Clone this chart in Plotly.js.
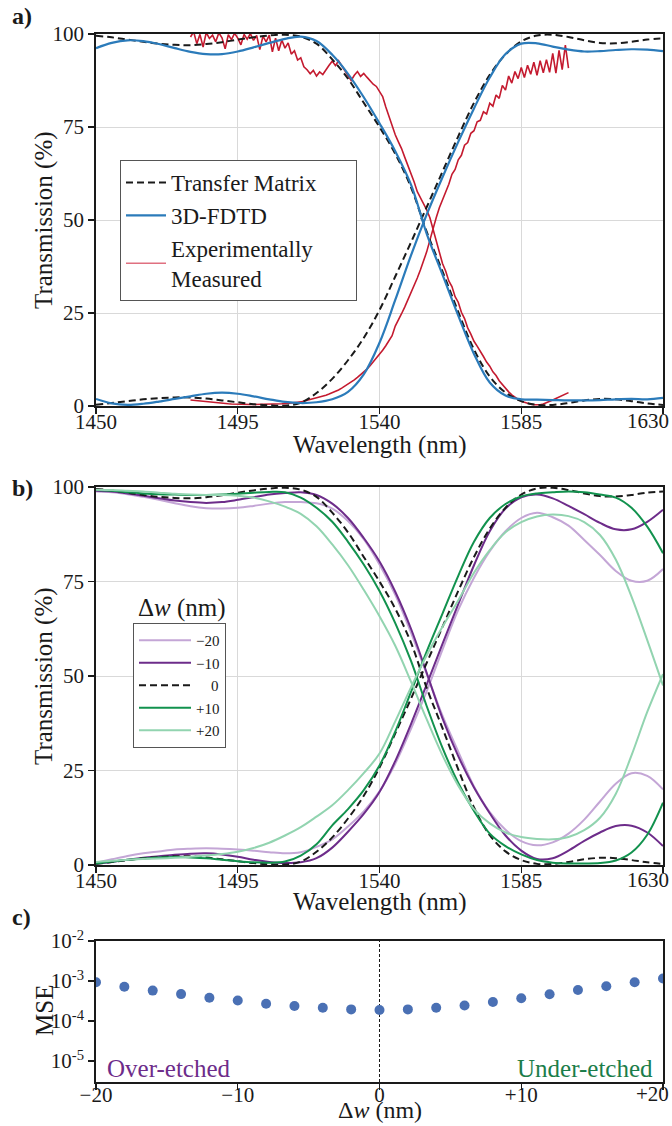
<!DOCTYPE html>
<html>
<head>
<meta charset="utf-8">
<script src="https://cdn.plot.ly/plotly-3.0.1.min.js"></script>
<style>html,body{margin:0;padding:0;background:#fff;}#chart{width:672px;height:1126px;}</style>
</head>
<body>
<div id="chart"></div>
<script>
// ---------- data ----------
const wavelength = [1450,1455,1460,1465,1470,1475,1480,1485,1490,1495,1500,1505,1510,1515,1520,1525,1530,1535,1540,1545,1550,1555,1560,1565,1570,1575,1580,1585,1590,1595,1600,1605,1610,1615,1620,1625,1630];

// Panel a: transfer matrix (also the Δw = 0 case in panel b)
const tmThrough = [99.5,99.1,98.5,97.9,97.4,97.1,97.0,97.3,97.8,98.5,99.1,99.6,99.8,99.3,97.4,93.2,88.0,81.5,75.0,67.8,58.8,46.8,36.2,25.3,15.2,7.9,3.6,1.3,0.3,0.3,0.8,1.5,1.9,1.8,1.3,0.7,0.3];
const tmDrop    = [0.3,0.8,1.3,1.8,2.1,2.3,2.3,2.0,1.5,1.0,0.5,0.2,0.1,0.9,3.5,7.3,12.3,18.3,25.8,34.8,44.0,53.5,63.0,72.5,81.5,89.0,94.5,98.0,99.6,99.8,99.2,98.3,97.6,97.5,97.9,98.5,98.8];
// Panel a: 3D-FDTD
const fdtdThrough = [96.2,97.6,98.3,98.1,97.3,96.2,95.2,94.6,94.6,95.3,96.4,97.6,98.7,99.3,98.1,94.4,89.3,83.0,76.0,68.5,59.5,46.3,35.3,24.3,14.0,6.3,2.8,1.8,1.7,1.6,1.5,1.5,1.6,1.8,1.9,1.8,2.2];
const fdtdDrop    = [1.9,0.7,0.3,0.6,1.2,1.9,2.6,3.3,3.6,3.3,2.6,1.8,1.1,0.8,1.0,1.8,3.8,8.5,17.0,28.5,40.5,51.5,61.5,71.0,80.0,88.3,94.6,97.4,97.5,96.6,95.8,95.3,95.4,95.7,95.9,95.8,95.4];

// Panel a: experimentally measured
const expWavelength = [1480,1481,1482,1483,1484,1485,1486,1487,1488,1489,1490,1491,1492,1493,1494,1495,1496,1497,1498,1499,1500,1501,1502,1503,1504,1505,1506,1507,1508,1509,1510,1511,1512,1513,1514,1515,1516,1517,1518,1519,1520,1521,1522,1523,1524,1525,1526,1527,1528,1529,1530,1531,1532,1533,1534,1535,1536,1537,1538,1539,1540,1541,1542,1543,1544,1545,1546,1547,1548,1549,1550,1551,1552,1553,1554,1555,1556,1557,1558,1559,1560,1561,1562,1563,1564,1565,1566,1567,1568,1569,1570,1571,1572,1573,1574,1575,1576,1577,1578,1579,1580,1581,1582,1583,1584,1585,1586,1587,1588,1589,1590,1591,1592,1593,1594,1595,1596,1597,1598,1599,1600];
const expThrough = [99.2,100.6,97.4,99.9,96.5,100.4,98.8,99.7,97.9,100.3,
  99.0,96.0,99.8,98.5,100.2,98.9,97.1,99.9,98.6,100.1,
  98.3,99.6,95.8,99.4,97.9,99.7,95.2,98.9,95.5,98.4,
  96.2,97.6,94.6,95.5,93.0,93.6,91.2,90.4,89.3,90.2,
  88.7,89.8,89.1,90.5,91.6,92.7,91.5,92.8,91.4,90.1,
  88.8,87.5,88.9,89.9,88.6,89.4,88.4,87.3,86.5,85.9,
  84.5,83.2,80.4,78.0,75.0,72.9,71.0,69.2,66.9,64.8,
  62.5,60.2,57.6,56.0,54.2,52.7,50.6,47.5,44.2,41.0,
  38.3,36.3,33.6,32.1,29.4,27.9,25.2,23.5,21.0,19.3,
  17.4,16.1,14.5,13.3,11.8,10.7,9.2,8.2,6.8,5.7,
  4.6,3.8,3.0,2.3,1.8,1.3,1.0,0.7,0.5,0.35,
  0.3,0.35,0.55,0.85,1.2,1.6,2.0,2.4,2.8,3.2,3.6];
const expDrop = [1.6,1.5,1.4,1.3,1.2,1.1,1.0,0.9,0.8,0.75,
  0.7,0.65,0.6,0.55,0.5,0.5,0.45,0.45,0.4,0.4,
  0.4,0.4,0.4,0.4,0.45,0.45,0.5,0.5,0.55,0.6,
  0.65,0.7,0.8,0.9,1.0,1.1,1.3,1.5,1.7,1.9,
  2.1,2.3,2.6,2.9,3.2,3.5,3.9,4.3,4.8,5.3,
  5.8,6.4,7.0,7.7,8.4,9.1,9.9,10.8,11.8,12.8,
  13.9,15.0,16.2,17.5,18.9,21.5,23.0,24.8,26.6,28.5,
  30.4,32.4,34.4,36.6,38.9,41.5,44.6,47.9,50.6,53.3,
  55.4,57.9,59.6,62.3,63.6,66.2,67.4,70.1,70.8,73.3,
  74.0,76.4,76.8,79.1,78.5,81.4,80.6,83.6,82.7,86.2,
  84.9,88.7,86.8,89.9,88.0,91.0,88.3,91.6,89.2,92.4,
  88.9,92.8,89.6,93.1,89.7,94.8,89.5,95.6,90.4,97.0,90.8];

// Panel b: width deviations Δw
const thruM20 = [98.8,98.6,98.1,97.4,96.6,95.7,94.9,94.4,94.3,94.5,95.0,95.6,96.0,96.0,95.7,94.3,91.0,86.2,79.5,71.5,61.5,50.5,39.5,30.0,20.8,14.0,9.3,6.3,5.2,6.0,8.3,12.0,16.8,21.5,24.3,23.6,20.0];
const dropM20 = [0.6,1.5,2.4,3.1,3.6,4.1,4.3,4.4,4.3,4.1,3.8,3.4,3.1,3.4,4.8,6.8,10.2,14.2,19.5,26.8,36.0,46.0,57.0,67.5,76.0,83.0,88.3,91.8,93.2,92.0,89.8,86.0,82.0,77.8,75.2,75.2,78.3];
const thruM10 = [99.0,98.8,98.3,97.7,97.0,96.4,96.0,95.8,96.0,96.6,97.3,98.0,98.4,98.6,97.9,95.6,91.8,86.5,80.3,72.3,62.5,50.8,38.8,28.8,20.5,13.7,7.8,3.8,1.6,1.8,3.8,6.4,8.6,10.3,10.4,8.6,5.0];
const dropM10 = [0.3,0.8,1.4,1.9,2.3,2.7,3.0,3.1,2.8,2.2,1.4,0.8,0.5,0.7,1.8,4.6,8.8,13.5,19.3,27.5,37.3,47.8,58.5,69.0,79.3,88.3,94.3,97.3,98.0,97.0,95.0,92.8,90.5,88.8,88.8,90.8,94.0];
const thruP10 = [99.2,99.0,98.6,98.3,98.1,98.0,97.9,97.9,98.0,98.2,98.5,98.7,98.6,97.2,94.5,90.8,85.5,79.5,72.5,64.0,54.0,42.0,31.0,21.7,14.3,8.3,5.0,2.8,1.3,0.6,0.4,0.4,0.5,1.2,3.3,8.0,16.5];
const dropP10 = [0.4,0.9,1.4,1.7,2.0,2.1,2.0,1.8,1.4,1.0,0.7,0.6,0.9,2.5,5.5,10.5,14.8,19.8,26.3,35.3,45.8,56.5,66.5,76.5,85.5,91.8,95.5,97.5,98.3,98.6,98.8,98.6,98.0,97.2,94.5,89.5,82.5];
const thruP20 = [99.3,99.2,99.0,98.8,98.5,98.2,98.0,97.9,97.9,97.7,97.2,96.2,94.8,92.9,89.6,84.8,79.3,72.8,65.8,58.0,48.5,38.5,29.0,21.0,14.8,11.0,8.6,7.4,6.9,6.8,7.4,9.2,12.5,18.8,29.0,40.5,50.5];
const dropP20 = [0.8,1.1,1.4,1.6,1.7,1.9,2.2,2.5,2.9,3.5,4.5,5.9,7.8,10.0,12.8,15.8,19.8,24.3,29.5,38.0,47.0,55.5,63.0,70.0,77.3,83.3,88.0,90.7,92.2,92.7,92.3,90.7,87.3,80.8,71.0,59.5,47.5];

// Panel c: mean squared error vs Δw
const deltaW = [-20,-18,-16,-14,-12,-10,-8,-6,-4,-2,0,2,4,6,8,10,12,14,16,18,20];
const mse = [9.3e-4,7.2e-4,5.75e-4,4.7e-4,3.8e-4,3.25e-4,2.7e-4,2.37e-4,2.14e-4,1.95e-4,1.88e-4,1.95e-4,2.14e-4,2.45e-4,2.99e-4,3.72e-4,4.68e-4,5.96e-4,7.41e-4,9.33e-4,1.15e-3];

// ticks (the last label of each x axis sits flush with the right edge, as in the original)
const wlTicks = [1450,1495,1540,1585,1630];
const wlTickText = ['1450','1495','1540','1585','1630'];
const tTicks = [0,25,50,75,100];
const dwTicks = [-20,-10,0,10,20];
const dwTickText = ['\u221220','\u221210','0','+10','+20'];
const mseTicks = [1e-5,1e-4,1e-3,1e-2];
const mseTickText = ['10<sup>-5</sup>','10<sup>-4</sup>','10<sup>-3</sup>','10<sup>-2</sup>'];
const nominalDw = 0;

// ---------- styling ----------
const FONT = 'Liberation Serif';
const INK = '#1a1a1a';
const BLUE = '#2b7bba';
const RED = '#c41a2f';
const PURPLE = '#6d2c8a', LPURPLE = '#c4a6d6';
const GREEN = '#12924e', LGREEN = '#92d4b0';
const W = 672, H = 1126;
const px = v => v / W;
const py = v => 1 - v / H;
const DASH = '7px,4px';

const traces = [];
// panel a
traces.push({x: expWavelength, y: expThrough, xaxis:'x', yaxis:'y', mode:'lines', line:{color:RED, width:1.6}, showlegend:false, hoverinfo:'skip'});
traces.push({x: expWavelength, y: expDrop, xaxis:'x', yaxis:'y', mode:'lines', line:{color:RED, width:1.6}, showlegend:false, hoverinfo:'skip'});
traces.push({x: wavelength, y: tmThrough, xaxis:'x', yaxis:'y', mode:'lines', name:'Transfer Matrix\u2007\u2007\u2007', legend:'legend', legendrank:1, line:{color:INK, width:2, dash:DASH, shape:'spline', smoothing:1}});
traces.push({x: wavelength, y: tmDrop, xaxis:'x', yaxis:'y', mode:'lines', showlegend:false, line:{color:INK, width:2, dash:DASH, shape:'spline', smoothing:1}});
traces.push({x: wavelength, y: fdtdThrough, xaxis:'x', yaxis:'y', mode:'lines', name:'3D-FDTD', legend:'legend', legendrank:2, line:{color:BLUE, width:2.2, shape:'spline', smoothing:1}});
traces.push({x: wavelength, y: fdtdDrop, xaxis:'x', yaxis:'y', mode:'lines', showlegend:false, line:{color:BLUE, width:2.2, shape:'spline', smoothing:1}});
// legend key for the measured data (lighter, as in the original key)
traces.push({x:[null], y:[null], xaxis:'x', yaxis:'y', mode:'lines', name:'Experimentally<br>Measured', legend:'legend', legendrank:3, line:{color:'#e07080', width:1.6}});

// panel b
const series = [
  {name:'\u221220', t: thruM20, d: dropM20, c: LPURPLE, dash: 'solid'},
  {name:'\u221210', t: thruM10, d: dropM10, c: PURPLE, dash: 'solid'},
  {name:'\u2007\u20070', t: tmThrough, d: tmDrop, c: INK, dash: DASH},
  {name:'+10', t: thruP10, d: dropP10, c: GREEN, dash: 'solid'},
  {name:'+20', t: thruP20, d: dropP20, c: LGREEN, dash: 'solid'}
];
series.forEach((s, i) => {
  traces.push({x: wavelength, y: s.t, xaxis:'x2', yaxis:'y2', mode:'lines', name:s.name, legend:'legend2', legendrank:10+i, legendgroup:'g'+i, line:{color:s.c, width:2, dash:s.dash, shape:'spline', smoothing:1}});
  traces.push({x: wavelength, y: s.d, xaxis:'x2', yaxis:'y2', mode:'lines', showlegend:false, legendgroup:'g'+i, line:{color:s.c, width:2, dash:s.dash, shape:'spline', smoothing:1}});
});

// panel c
traces.push({x: deltaW, y: mse, xaxis:'x3', yaxis:'y3', mode:'markers', showlegend:false, marker:{color:'#4a70b4', size:10}});

const tickFont = {family: FONT, size: 21, color: INK};
const titleFont = {family: FONT, size: 25, color: INK};
const baseAxis = {
  showline: true, mirror: true, linecolor: INK, linewidth: 1.8,
  ticks: 'outside', ticklen: 6, tickwidth: 1.4, tickcolor: INK,
  zeroline: false, tickfont: tickFont, automargin: false
};
const xd = [px(96), px(663)];
const xTickShift = -10;
const lastTickMinor = vals => ({tickmode:'array', tickvals: vals.slice(-1), ticks:'outside', ticklen:6, tickwidth:1.4, tickcolor:INK, showgrid:false});

const layout = {
  width: W, height: H,
  margin: {l:0, r:0, t:0, b:0},
  paper_bgcolor: '#fff', plot_bgcolor: '#fff',
  font: {family: FONT, color: INK},
  showlegend: true,
  xaxis: Object.assign({}, baseAxis, {domain: xd, anchor:'y', range:[1450,1630], tickmode:'array', tickvals: wlTicks.slice(0,-1), ticktext: wlTickText.slice(0,-1), minor: lastTickMinor(wlTicks), showgrid:true, gridcolor:'#d9d9d9', gridwidth:1, ticklabelstandoff: xTickShift}),
  yaxis: Object.assign({}, baseAxis, {domain: [py(406), py(34)], anchor:'x', range:[0,100], tickmode:'array', tickvals: tTicks, showgrid:true, gridcolor:'#d9d9d9', gridwidth:1}),
  xaxis2: Object.assign({}, baseAxis, {domain: xd, anchor:'y2', range:[1450,1630], tickmode:'array', tickvals: wlTicks.slice(0,-1), ticktext: wlTickText.slice(0,-1), minor: lastTickMinor(wlTicks), showgrid:true, gridcolor:'#d9d9d9', gridwidth:1, ticklabelstandoff: xTickShift}),
  yaxis2: Object.assign({}, baseAxis, {domain: [py(865), py(487)], anchor:'x2', range:[0,100], tickmode:'array', tickvals: tTicks, showgrid:true, gridcolor:'#d9d9d9', gridwidth:1}),
  xaxis3: Object.assign({}, baseAxis, {domain: xd, anchor:'y3', range:[-20,20], tickmode:'array', tickvals: dwTicks.slice(0,-1), ticktext: dwTickText.slice(0,-1), minor: lastTickMinor(dwTicks), showgrid:false, ticklabelstandoff: -13}),
  yaxis3: Object.assign({}, baseAxis, {domain: [py(1082), py(941)], anchor:'x3', type:'log', range:[-5.525,-2], tickmode:'array', tickvals: mseTicks, ticktext: mseTickText, showgrid:false}),
  legend: {x: px(120), y: py(160), xanchor:'left', yanchor:'top', bgcolor:'#fff', bordercolor:'#555', borderwidth:1,
    font:{family: FONT, size: 23, color: INK}, itemwidth: 40, traceorder:'normal', tracegroupgap: 0},
  legend2: {x: px(133), y: py(623), xanchor:'left', yanchor:'top', bgcolor:'#fff', bordercolor:'#555', borderwidth:1,
    font:{family: FONT, size: 15, color: INK}, itemwidth: 52, traceorder:'normal', tracegroupgap: 0},
  shapes: [
    {type:'line', xref:'x3', yref:'y3 domain', x0: nominalDw, x1: nominalDw, y0: 0, y1: 1, line:{color:INK, width:1, dash:'3px,2px'}, layer:'below'}
  ],
  annotations: [
    // panel letters
    {text:'<b>a)</b>', xref:'paper', yref:'paper', x: px(10), y: py(16), xanchor:'left', yanchor:'middle', showarrow:false, font:{family:FONT, size:24, color:INK}},
    {text:'<b>b)</b>', xref:'paper', yref:'paper', x: px(10), y: py(488), xanchor:'left', yanchor:'middle', showarrow:false, font:{family:FONT, size:24, color:INK}},
    {text:'<b>c)</b>', xref:'paper', yref:'paper', x: px(10), y: py(917), xanchor:'left', yanchor:'middle', showarrow:false, font:{family:FONT, size:24, color:INK}},
    // right-most x tick labels, kept inside the figure edge
    {text: wlTickText[4], xref:'paper', yref:'paper', x: px(671), y: py(421), xanchor:'right', yanchor:'middle', showarrow:false, font:tickFont},
    {text: wlTickText[4], xref:'paper', yref:'paper', x: px(671), y: py(880), xanchor:'right', yanchor:'middle', showarrow:false, font:tickFont},
    {text: dwTickText[4], xref:'paper', yref:'paper', x: px(671), y: py(1094), xanchor:'right', yanchor:'middle', showarrow:false, font:tickFont},
    // axis titles
    {text:'Wavelength (nm)', xref:'paper', yref:'paper', x: px(380), y: py(445), xanchor:'center', yanchor:'middle', showarrow:false, font:titleFont},
    {text:'Wavelength (nm)', xref:'paper', yref:'paper', x: px(380), y: py(902), xanchor:'center', yanchor:'middle', showarrow:false, font:titleFont},
    {text:'\u0394<i>w</i> (nm)', xref:'paper', yref:'paper', x: px(380), y: py(1110), xanchor:'center', yanchor:'middle', showarrow:false, font:{family:FONT, size:24, color:INK}},
    {text:'Transmission (%)', xref:'paper', yref:'paper', x: px(44), y: py(220), xanchor:'center', yanchor:'middle', textangle:-90, showarrow:false, font:titleFont},
    {text:'Transmission (%)', xref:'paper', yref:'paper', x: px(44), y: py(676), xanchor:'center', yanchor:'middle', textangle:-90, showarrow:false, font:titleFont},
    {text:'MSE', xref:'paper', yref:'paper', x: px(44), y: py(1011), xanchor:'center', yanchor:'middle', textangle:-90, showarrow:false, font:titleFont},
    // legend-2 heading and panel-c labels
    {text:'\u0394<i>w</i> (nm)', xref:'paper', yref:'paper', x: px(182), y: py(608), xanchor:'center', yanchor:'middle', showarrow:false, font:titleFont},
    {text:'Over-etched', xref:'paper', yref:'paper', x: px(105), y: py(1068), xanchor:'left', yanchor:'middle', showarrow:false, font:{family:FONT, size:25, color:PURPLE}},
    {text:'Under-etched', xref:'paper', yref:'paper', x: px(655), y: py(1068), xanchor:'right', yanchor:'middle', showarrow:false, font:{family:FONT, size:25, color:'#1b7d4a'}}
  ]
};

Plotly.newPlot('chart', traces, layout, {displayModeBar:false, staticPlot:true});
</script>
</body>
</html>
